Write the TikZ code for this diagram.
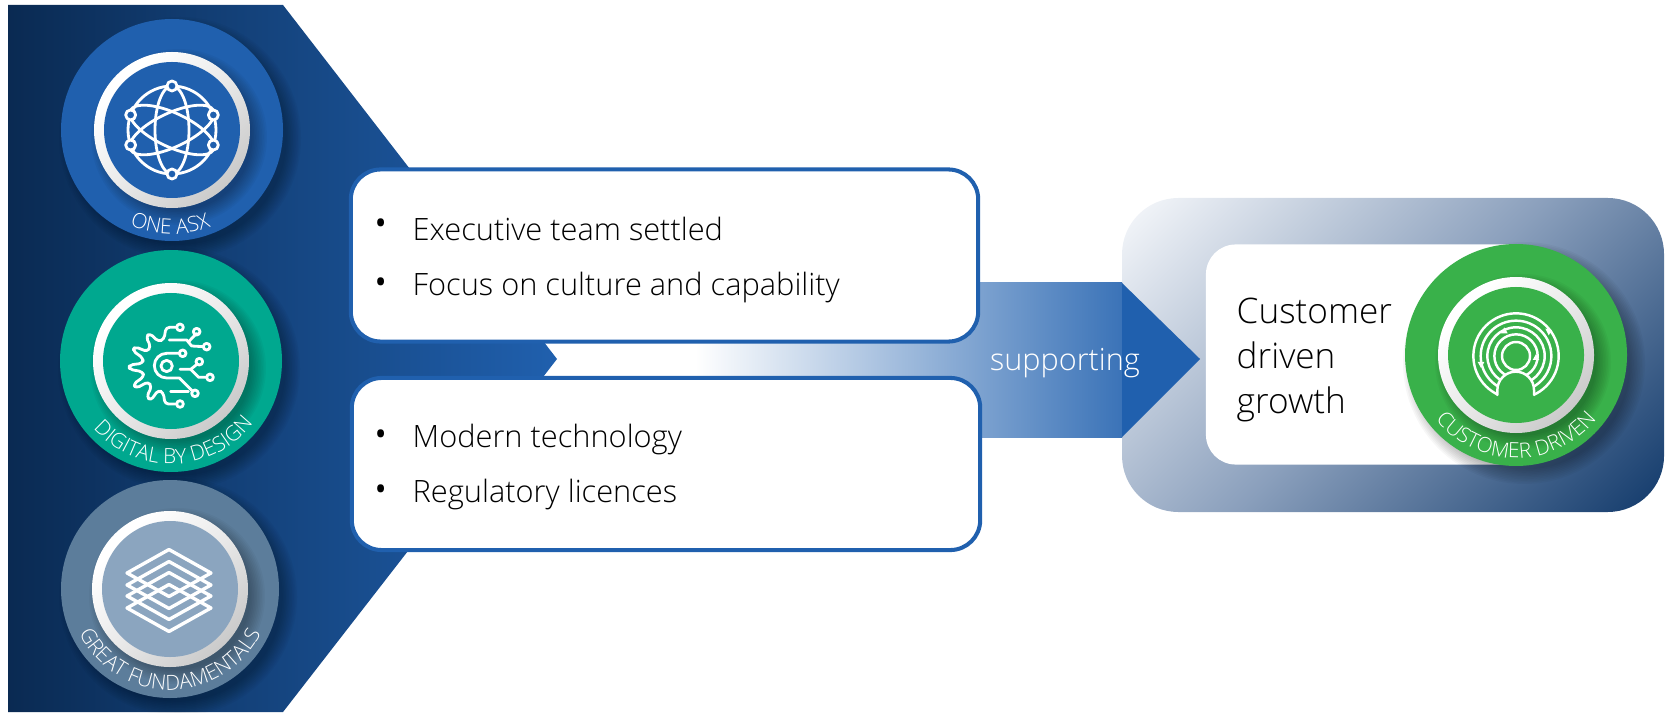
\documentclass[tikz,border=0pt]{standalone}
\usepackage{fontspec}
\setmainfont{Open Sans}[UprightFont=* Light]
\usetikzlibrary{decorations.text}
\definecolor{asxnavy}{HTML}{0A2A52}
\definecolor{asxblue}{HTML}{2060AE}
\definecolor{asxteal}{HTML}{00A88F}
\definecolor{asxslate}{HTML}{5C7D9B}
\definecolor{asxmist}{HTML}{8BA5BF}
\definecolor{asxgreen}{HTML}{39B14A}
\definecolor{paneldark}{HTML}{123A6B}
\definecolor{panelmid}{HTML}{8A9FBC}
\definecolor{panellight}{HTML}{F6F8FB}
\definecolor{ringgrey}{HTML}{C4C4C4}
\definecolor{ringpale}{HTML}{EAEAEA}
\pgfdeclareverticalshading{paneltone}{100bp}{color(0bp)=(paneldark); color(15bp)=(paneldark); color(50bp)=(panelmid); color(85bp)=(panellight); color(100bp)=(panellight)}
\pgfdeclareverticalshading{ringtone}{100bp}{color(0bp)=(ringgrey); color(20bp)=(ringgrey); color(50bp)=(ringpale); color(72bp)=(white); color(100bp)=(white)}
\newcommand{\badgefont}{\fontsize{5.95pt}{7pt}\selectfont}
\tikzset{
  itembox/.style={draw=asxblue,line width=1.15pt,fill=white,rounded corners=8.5pt,minimum height=1.72cm},
  itemtext/.style={anchor=west,inner sep=0pt,font=\fontsize{8.75pt}{11pt}\selectfont},
  iconline/.style={white,line width=.8pt,line join=round,line cap=round},
}
\begin{document}
\begin{tikzpicture}[x=0.01cm,y=0.01cm]
\useasboundingbox (0,0) rectangle (1671,712);
% left arrow
\shade[left color=asxnavy,right color=asxblue] (8,707) -- (283,707) -- (557,353) -- (283,0) -- (8,0) -- cycle;
% right panel
\shade[shading=paneltone,shading angle=45,rounded corners=16pt] (1122,200) rectangle (1664,514);
% supporting arrow
\shade[left color=white,right color=asxblue!88!white] (695,275) rectangle (1122,429);
\fill[asxblue] (1122,429) -- (1200,353) -- (1122,275) -- cycle;
\node[white,inner sep=0pt,font=\fontsize{8.7pt}{11pt}\selectfont] (supporting) at (1065,349) {supporting};
% text boxes
\node[itembox,minimum width=6.27cm] (culture) at (664.5,456.5) {};
\node[itembox,minimum width=6.28cm] (technology) at (666,248) {};
\foreach \nm/\py/\txt in {exec/483/Executive team settled,focus/424/Focus on culture and capability,tech/272/Modern technology,lic/217/Regulatory licences} {
  \node[itemtext] (\nm) at (412,\py) {\txt};
  \node[inner sep=0pt,font=\fontsize{13pt}{13pt}\selectfont] (\nm dot) at (381,\py) {•};
}
% goal box
\node[fill=white,rounded corners=8.5pt,minimum width=3.4cm,minimum height=2.2cm] (goal) at (1376,357.5) {};
\node[anchor=west,inner sep=0pt,align=left,font=\fontsize{10pt}{12.9pt}\selectfont] (growth) at (1236,352) {Customer\\driven\\growth};
% badges
\foreach \cx/\cy/\rad/\ocol/\icol in {172/582/111/asxblue/asxblue,171/351/111/asxteal/asxteal,170/123/109/asxslate/asxmist,1516/357/111/asxgreen/asxgreen} {
  \foreach \k in {1,...,10}
    \fill[black,opacity=.03] (\cx+8,\cy-8) circle (\rad-6+\k*1.6);
  \fill[\ocol] (\cx,\cy) circle (\rad);
  \foreach \k in {1,...,10}
    \fill[black,opacity=.03] (\cx+7,\cy-7) circle (78-6+\k*1.6);
  \shade[shading=ringtone,shading angle=45] (\cx,\cy) circle (78);
  \fill[\icol] (\cx,\cy) circle (68);
}
% badge labels
\path[decorate,decoration={text along path,text align=center,text={|\color{white}\badgefont|ONE ASX}}] (172,582) ++(229:104) arc (229:309:104);
\path[decorate,decoration={text along path,text align=center,text={|\color{white}\badgefont|DIGITAL BY DESIGN}}] (171,351) ++(207:103) arc (207:337:103);
\path[decorate,decoration={text along path,text align=center,text={|\color{white}\badgefont|GREAT FUNDAMENTALS}}] (170,123) ++(190:101) arc (190:350:101);
\path[decorate,decoration={text along path,text align=center,text={|\color{white}\badgefont|CUSTOMER DRIVEN}}] (1516,357) ++(205:103) arc (205:335:103);
% globe icon
\begin{scope}[shift={(172,582)}]
\draw[iconline] (0,0) circle (44);
\draw[iconline] (0,0) ellipse (17 and 44);
\draw[iconline,rotate=65] (0,0) ellipse (17 and 46);
\draw[iconline,rotate=-65] (0,0) ellipse (17 and 46);
\foreach \ang in {90,270,20,160,200,340}
  \draw[iconline,fill=asxblue] (\ang:44) circle (5);
\end{scope}
% gear icon
\begin{scope}[shift={(40,472)},x=0.01cm/3,y=-0.01cm/3]
\draw[iconline,rounded corners=1pt] (410,262) -- (378,262) -- (372,298) -- (355,305) -- (330,280) -- (318,290) -- (332,320) -- (322,335) -- (285,320) -- (278,332) -- (310,355) -- (308,370) -- (268,375) -- (268,388) -- (308,395) -- (312,410) -- (280,432) -- (288,445) -- (325,425) -- (335,440) -- (320,470) -- (332,482) -- (355,450) -- (370,458) -- (375,492) -- (410,492);
\draw[iconline] (388,300) -- (440,300) -- (455,318) -- (490,320);
\draw[iconline] (445,306) -- (470,280);
\draw[iconline] (420,340) -- (380,340) arc (-90:-270:37) -- (418,414) -- (458,454);
\draw[iconline] (420,388) -- (452,388) -- (472,372);
\draw[iconline] (452,388) -- (476,412) -- (500,412);
\draw[iconline] (392,455) -- (445,455);
\foreach \px/\py in {420/262,470/275,500/320,428/340,478/365,510/412,465/460,420/492}
  \draw[iconline] (\px,\py) circle (10);
\draw[iconline] (380,378) circle (17);
\end{scope}
% layers icon
\begin{scope}[shift={(169,116)}]
\foreach \dy in {35,23,12,0}
  \draw[iconline,line width=.95pt] (0,\dy-12+23.5) -- (42,\dy-12) -- (0,\dy-12-23.5) -- (-42,\dy-12) -- cycle;
\end{scope}
% customer icon
\begin{scope}[shift={(1390,472)},x=0.01cm/3,y=-0.01cm/3]
\foreach \rr in {128,106,86,65,42}
  \draw[iconline,line width=.7pt] (378,348) circle (\rr);
\fill[asxgreen] (322,480) -- (322,450) arc (180:360:55) -- (432,480) -- cycle;
\draw[iconline,line width=.7pt] (322,465) -- (322,450) arc (180:360:55) -- (432,465);
\fill[white] (343,262) -- (333,280) -- (353,280) -- cycle;
\fill[white] (466,266) -- (486,270) -- (476,286) -- cycle;
\fill[white] (263,366) -- (283,366) -- (273,384) -- cycle;
\fill[white] (438,342) -- (428,360) -- (448,360) -- cycle;
\end{scope}
\end{tikzpicture}
\end{document}
